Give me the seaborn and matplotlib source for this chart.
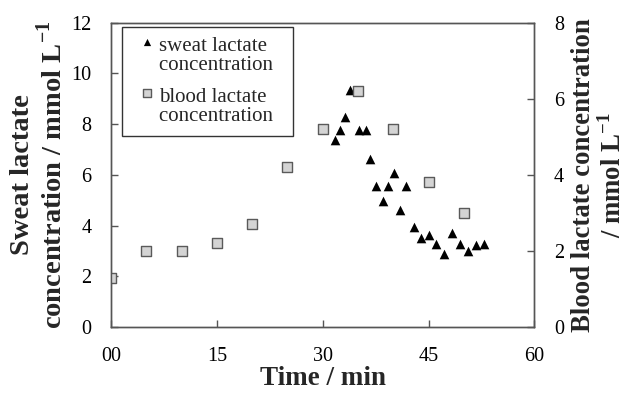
import matplotlib
matplotlib.use("Agg")
import matplotlib.pyplot as plt
from matplotlib.legend_handler import HandlerPathCollection
import seaborn as sns
import pandas as pd

# ---- data ----
sweat_time = [31.8, 32.5, 33.2, 33.9, 35.2, 36.1, 36.7, 37.6, 38.5, 39.3, 40.1, 41.0,
              41.8, 42.9, 43.9, 45.0, 46.1, 47.2, 48.3, 49.4, 50.6, 51.7, 52.9]
sweat_lactate = [7.38, 7.78, 8.26, 9.36, 7.78, 7.78, 6.64, 5.55, 4.95, 5.55, 6.07, 4.61,
                 5.55, 3.94, 3.53, 3.62, 3.26, 2.89, 3.71, 3.26, 2.99, 3.22, 3.26]
blood_time = [0, 5, 10, 15, 20, 25, 30, 35, 40, 45, 50]
blood_lactate = [1.3, 2.0, 2.0, 2.2, 2.7, 4.2, 5.2, 6.2, 5.2, 3.8, 3.0]
x_ticks = [0, 15, 30, 45, 60]
x_tick_labels = ["00", "15", "30", "45", "60"]
left_ticks = [0, 2, 4, 6, 8, 10, 12]
right_ticks = [0, 2, 4, 6, 8]

sns.set_style("white")
plt.rcParams["font.family"] = ["Liberation Serif", "DejaVu Serif"]
plt.rcParams["mathtext.fontset"] = "custom"
plt.rcParams["mathtext.rm"] = "Liberation Serif"
plt.rcParams["mathtext.bf"] = "Liberation Serif:bold"

sweat_df = pd.DataFrame({"t": sweat_time, "v": sweat_lactate})
blood_df = pd.DataFrame({"t": blood_time, "v": blood_lactate})

fig = plt.figure(figsize=(6.25, 3.96), dpi=100)
ax = fig.add_axes([0.1776, 0.174, 0.6774, 0.769])
ax2 = ax.twinx()

sns.scatterplot(data=sweat_df, x="t", y="v", ax=ax, marker="^", color="black",
                s=48, edgecolor="black", linewidth=0,
                label="sweat lactate  \nconcentration  ", legend=False)
sns.scatterplot(data=blood_df, x="t", y="v", ax=ax2, marker="s", color="#d4d4d4",
                s=52, edgecolor="#5a5a5a", linewidth=1.0,
                label="blood lactate  \nconcentration  ", legend=False)

spine_col = "#555555"
ax.set_xlim(0, 60)
ax.set_ylim(0, 12)
ax2.set_ylim(0, 8)
ax.set_xticks(x_ticks)
ax.set_xticklabels(x_tick_labels)
ax.set_yticks(left_ticks)
ax2.set_yticks(right_ticks)

for a in (ax, ax2):
    for sp in a.spines.values():
        sp.set_color(spine_col)
        sp.set_linewidth(1.0)
    a.tick_params(direction="in", length=5, width=1, color=spine_col,
                  labelsize=14.5, pad=14, labelcolor="black")
ax.tick_params(axis="y", left=True, right=False)
ax.tick_params(axis="x", bottom=True)
ax2.tick_params(axis="y", right=True, left=False)

ax.set_xlabel("Time / min", fontsize=19.5, fontweight="bold", labelpad=0)
ax.set_ylabel("Sweat lactate\nconcentration / mmol L$^{\\mathbf{-1}}$", fontsize=20.5,
              fontweight="bold", labelpad=3, linespacing=1.05)
ax2.set_ylabel("Blood lactate concentration\n/ mmol L$^{\\mathbf{-1}}$", fontsize=19.3,
               fontweight="bold", rotation=90, labelpad=5, linespacing=1.12)

h1, l1 = ax.get_legend_handles_labels()
h2, l2 = ax2.get_legend_handles_labels()
hmap = {h1[0]: HandlerPathCollection(yoffsets=[1.45]),
        h2[0]: HandlerPathCollection(yoffsets=[1.45])}
leg = ax2.legend(h1 + h2, l1 + l2, loc="upper left", bbox_to_anchor=(0.025, 0.985),
                 fontsize=15, frameon=True, fancybox=False, edgecolor="black",
                 handletextpad=-0.17, handlelength=1.5, borderpad=0.45, labelspacing=0.6,
                 markerscale=0.75, borderaxespad=0, handler_map=hmap)
leg.get_frame().set_linewidth(1.0)
for t in leg.get_texts():
    t.set_linespacing(1.05)

fig.savefig("out.png", dpi=100)
